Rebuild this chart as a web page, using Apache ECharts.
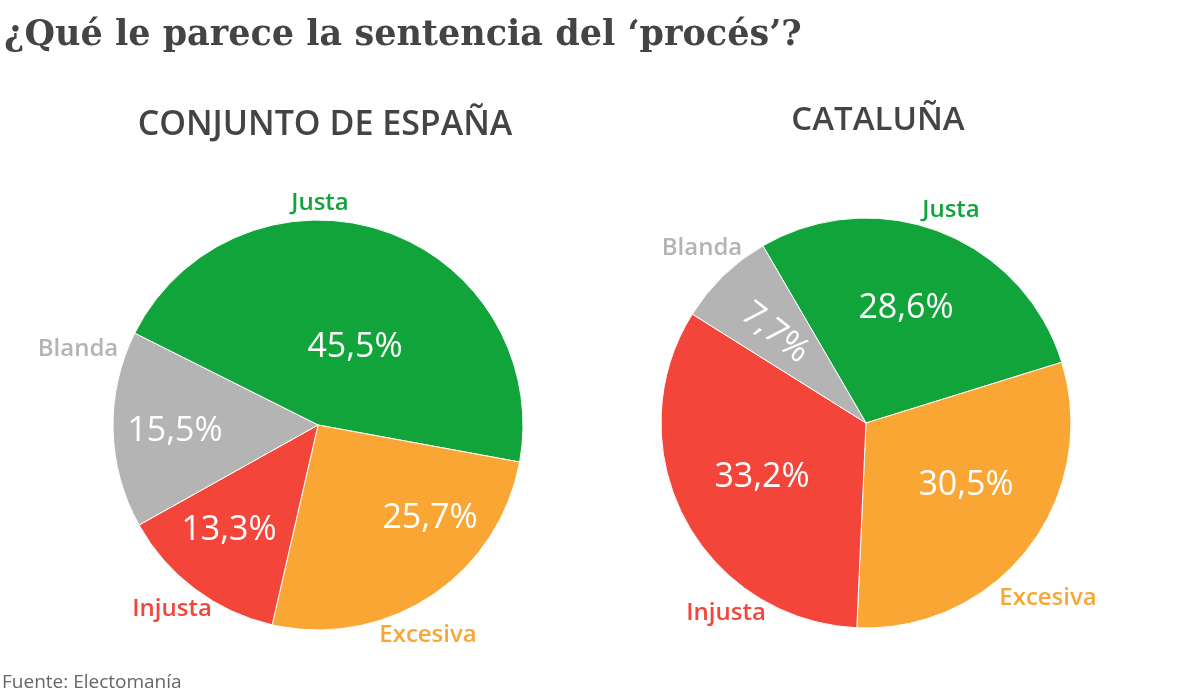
<!DOCTYPE html>
<html lang="es">

<head>
  <meta charset="UTF-8" />
  <title>Sentencia del procés</title>
  <script src="https://cdn.jsdelivr.net/npm/echarts@6/dist/echarts.min.js"></script>
</head>

<body style="margin: 0; overflow: hidden; background: #fff;">
  <div id="panel" style="width: 1200px; height: 700px;"></div>
  <script>
    // data
    var categories = ['Justa', 'Excesiva', 'Injusta', 'Blanda'];
    var espana = [45.5, 25.7, 13.3, 15.5];
    var cataluna = [28.6, 30.5, 33.2, 7.7];
    var colors = ['#10a43a', '#faa634', '#f4453b', '#b4b4b4'];

    var myChart = echarts.init(document.getElementById('panel'));

    var R = 205;
    // label offsets from the pie centre, same order as categories
    var pies = [
      { center: [318, 425], values: espana, startAngle: 153.4,
        names: [[2, -222], [110, 210], [-146, 184], [-240, -76]],
        pcts: [[37, -78], [112, 93], [-89, 105], [-143, 6]] },
      { center: [866, 423], values: cataluna, startAngle: 120.2,
        names: [[85, -213], [182, 175], [-140, 190], [-164, -175]],
        pcts: [[40, -115], [100, 62], [-104, 54], [-91, -90]] }
    ];

    function fmt(v) {
      return v.toFixed(1).replace('.', ',') + '%';
    }

    var series = [];
    pies.forEach(function (p, k) {
      // the pie itself with the percentage labels
      series.push({
        type: 'pie',
        center: p.center,
        radius: R,
        startAngle: p.startAngle,
        clockwise: true,
        silent: true,
        itemStyle: { borderColor: '#fff', borderWidth: 1 },
        label: {
          show: true,
          position: 'inside',
          color: '#fff',
          fontFamily: 'Open Sans',
          fontSize: 34,
          formatter: function (prm) { return fmt(prm.value); }
        },
        labelLine: { show: false },
        labelLayout: function (prm) {
          var o = p.pcts[prm.dataIndex];
          var out = { x: p.center[0] + o[0], y: p.center[1] + o[1], align: 'center', verticalAlign: 'middle' };
          if (k === 1 && categories[prm.dataIndex] === 'Blanda') out.rotate = -38;
          return out;
        },
        data: categories.map(function (c, i) {
          return { name: c, value: p.values[i], itemStyle: { color: colors[i] } };
        })
      });
      // transparent copy carrying the category names outside
      series.push({
        type: 'pie',
        center: p.center,
        radius: R,
        startAngle: p.startAngle,
        clockwise: true,
        silent: true,
        z: 3,
        itemStyle: { color: 'rgba(0,0,0,0)', borderWidth: 0 },
        label: {
          show: true,
          position: 'outside',
          overflow: 'none',
          fontFamily: 'Open Sans',
          fontWeight: 600,
          fontSize: 24,
          formatter: '{b}'
        },
        labelLine: { show: false },
        labelLayout: function (prm) {
          var o = p.names[prm.dataIndex];
          return { x: p.center[0] + o[0], y: p.center[1] + o[1], align: 'center', verticalAlign: 'middle' };
        },
        data: categories.map(function (c, i) {
          return { name: c, value: p.values[i], label: { color: colors[i] } };
        })
      });
    });

    var option = {
      animation: false,
      title: [
        {
          text: '¿Qué le parece la sentencia del ‘procés’?',
          left: -1,
          top: 13,
          textStyle: { fontFamily: 'DejaVu Serif', fontWeight: 'bold', fontSize: 35, color: '#444' }
        },
        {
          text: 'CONJUNTO DE ESPAÑA',
          left: 320,
          top: 103,
          textAlign: 'center',
          textStyle: { fontFamily: 'Open Sans', fontWeight: 600, fontSize: 34, color: '#444' }
        },
        {
          text: 'CATALUÑA',
          left: 873,
          top: 99,
          textAlign: 'center',
          textStyle: { fontFamily: 'Open Sans', fontWeight: 600, fontSize: 33, color: '#444' }
        },
        {
          text: 'Fuente: Electomanía',
          left: -3,
          top: 668,
          textStyle: { fontFamily: 'Open Sans', fontWeight: 'normal', fontSize: 19, color: '#666' }
        }
      ],
      series: series
    };

    myChart.setOption(option);

    window.addEventListener('resize', function () {
      myChart.resize();
    });
  </script>
</body>

</html>
